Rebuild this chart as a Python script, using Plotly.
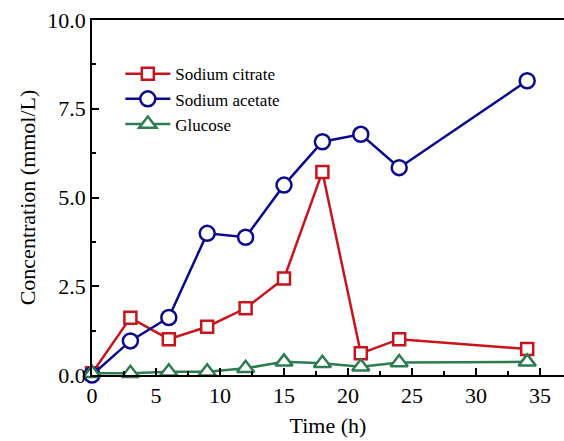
import plotly.graph_objects as go

time_h = [0, 3, 6, 9, 12, 15, 18, 21, 24, 34]
sodium_citrate = [0.05, 1.61, 1.01, 1.36, 1.88, 2.72, 5.72, 0.61, 1.01, 0.73]
sodium_acetate = [0.0, 0.96, 1.62, 3.99, 3.88, 5.35, 6.57, 6.78, 5.84, 8.29]
glucose = [0.05, 0.05, 0.09, 0.09, 0.19, 0.37, 0.33, 0.23, 0.35, 0.37]

series_names = ["Sodium citrate", "Sodium acetate", "Glucose"]
colors = ["#C8141C", "#0A0A8C", "#2E7D50"]
symbols = ["square", "circle", "triangle-up"]
sizes = [12, 15, 15]

fig = go.Figure()
for name, vals, col, sym, sz in zip(series_names, [sodium_citrate, sodium_acetate, glucose], colors, symbols, sizes):
    fig.add_trace(go.Scatter(
        x=time_h, y=vals, name=name, mode="lines+markers",
        line=dict(color=col, width=2.5),
        marker=dict(symbol=sym, size=sz, color="white",
                    line=dict(color=col, width=2.5)),
        cliponaxis=False,
    ))

ff = "Liberation Serif"
fig.update_layout(
    width=564, height=441,
    margin=dict(l=92, r=0, t=20, b=66),
    paper_bgcolor="white", plot_bgcolor="white",
    font=dict(family=ff, size=22, color="black"),
    showlegend=True,
    legend=dict(x=0.06, y=0.898, xanchor="left", yanchor="top",
                bgcolor="rgba(0,0,0,0)", font=dict(size=17, family=ff, color="black"),
                tracegroupgap=0, itemwidth=45),
)
fig.update_xaxes(
    range=[0, 36.875], tickvals=[0, 5, 10, 15, 20, 25, 30, 35],
    ticks="inside", ticklen=7, tickwidth=1.5, tickcolor="black",
    minor=dict(dtick=2.5, ticks="inside", ticklen=4, tickwidth=1.5, tickcolor="black"),
    showline=True, linecolor="black", linewidth=1.5, mirror=True,
    showgrid=False, zeroline=False,
    title=dict(text="Time (h)", font=dict(size=22, family=ff, color="black"), standoff=10),
    tickfont=dict(size=22, family=ff, color="black"),
)
fig.update_yaxes(
    range=[0, 10], tickvals=[0, 2.5, 5, 7.5, 10], ticktext=["0.0", "2.5", "5.0", "7.5", "10.0"],
    ticks="inside", ticklen=7, tickwidth=1.5, tickcolor="black",
    minor=dict(dtick=1.25, ticks="inside", ticklen=4, tickwidth=1.5, tickcolor="black"),
    showline=True, linecolor="black", linewidth=1.5, mirror=False,
    showgrid=False, zeroline=False,
    title=dict(text="Concentration (mmol/L)", font=dict(size=22, family=ff, color="black"), standoff=6),
    tickfont=dict(size=22, family=ff, color="black"),
)

fig.write_html("out.html")
